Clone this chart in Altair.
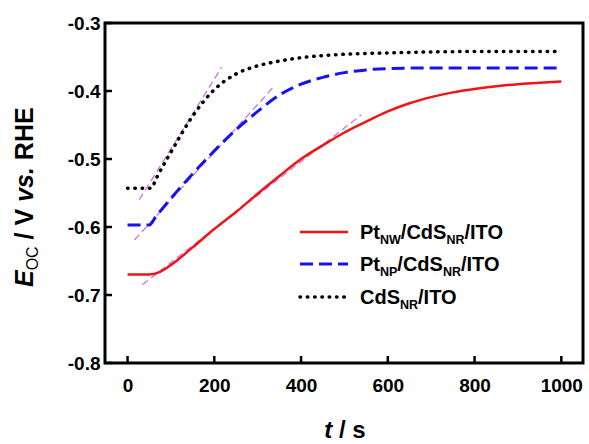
import altair as alt
import pandas as pd

# ---------------- data ----------------
t_nw = [0, 50, 75, 100, 150, 200, 250, 300, 350, 400, 450, 500, 550, 600, 650, 700, 750, 800, 850, 900, 950, 1000]
e_nw = [-0.670, -0.670, -0.666, -0.656, -0.630, -0.603, -0.578, -0.551, -0.525, -0.500, -0.480, -0.461,
        -0.445, -0.430, -0.418, -0.409, -0.402, -0.397, -0.393, -0.390, -0.388, -0.386]
t_np = [0, 50, 65, 100, 150, 200, 250, 300, 350, 400, 450, 500, 550, 600, 700, 800, 1000]
e_np = [-0.597, -0.597, -0.585, -0.558, -0.522, -0.488, -0.457, -0.430, -0.406, -0.390, -0.380, -0.373,
        -0.369, -0.367, -0.366, -0.366, -0.366]
t_cds = [0, 55, 65, 100, 150, 200, 250, 300, 350, 400, 500, 600, 800, 1000]
e_cds = [-0.543, -0.543, -0.530, -0.490, -0.437, -0.398, -0.375, -0.363, -0.356, -0.351, -0.346, -0.344,
         -0.342, -0.342]

tan_t = [[27, 217], [16, 338], [34, 539]]
tan_e = [[-0.560, -0.365], [-0.619, -0.393], [-0.685, -0.435]]

x_ticks = [0, 200, 400, 600, 800, 1000]
y_ticks = [-0.8, -0.7, -0.6, -0.5, -0.4, -0.3]

legend_labels = [
    [("Pt", "b"), ("NW", "s"), ("/CdS", "b"), ("NR", "s"), ("/ITO", "b")],
    [("Pt", "b"), ("NP", "s"), ("/CdS", "b"), ("NR", "s"), ("/ITO", "b")],
    [("CdS", "b"), ("NR", "s"), ("/ITO", "b")],
]
y_title = [("E", "bi"), ("OC", "s"), (" / V", "b"), (" vs.", "bi"), (" RHE", "b")]
x_title = [("t", "bi"), (" / s", "b")]

# ---------------- styles ----------------
RED = "#f01414"
BLUE = "#1414f0"
BLACK = "#000000"
MAG = "#cc66ee"
FONT = "Liberation Sans"
W, H = 478, 340
XDOM = [-52, 1050]
YDOM = [-0.8, -0.3]

AW = {"P": 667, "t": 333, "N": 722, "W": 944, "/": 278, "C": 722, "d": 611, "S": 667, "R": 722,
      "I": 278, "T": 611, "O": 778, "E": 667, "V": 667, "v": 556, "s": 556, ".": 278, "H": 722, " ": 278}


def wid(s, size):
    return sum(AW.get(c, 556) for c in s) * size / 1000.0


xs = alt.Scale(domain=XDOM, nice=False, zero=False)
ys = alt.Scale(domain=YDOM, nice=False, zero=False)

df_nw = pd.DataFrame({"t": t_nw, "e": e_nw})
df_np = pd.DataFrame({"t": t_np, "e": e_np})
df_cds = pd.DataFrame({"t": t_cds, "e": e_cds})

layers = []

base_x = alt.X("t:Q", scale=xs, axis=alt.Axis(values=x_ticks, title=None, domain=False, ticks=False, grid=False,
                                                format="d", labelFont=FONT, labelFontSize=19,
                                                labelFontWeight="bold", labelColor="black", labelPadding=13,
                                                labelFlush=False))
base_y = alt.Y("e:Q", scale=ys, axis=alt.Axis(values=y_ticks, title=None, domain=False, ticks=False, grid=False,
                                               labelExpr="replace(format(datum.value, '.1f'), '\u2212', '-')",
                                               labelFont=FONT, labelFontSize=19,
                                               labelFontWeight="bold", labelColor="black", labelPadding=5,
                                               labelFlush=False))

# frame
layers.append(alt.Chart(pd.DataFrame({"a": [0]})).mark_rect(fill=None, stroke="black", strokeWidth=3).encode(
    x=alt.value(0), x2=alt.value(W), y=alt.value(0), y2=alt.value(H)))

# tangent lines
for tt, ee in zip(tan_t, tan_e):
    d = pd.DataFrame({"t": tt, "e": ee})
    layers.append(alt.Chart(d).mark_line(color=MAG, strokeWidth=1.2, strokeDash=[7, 4]).encode(
        x=alt.X("t:Q", scale=xs), y=alt.Y("e:Q", scale=ys)))

layers.append(alt.Chart(df_cds).mark_line(color=BLACK, strokeWidth=3.5, strokeDash=[0.5, 6.8], strokeCap="round",
                                          interpolate="monotone").encode(x=base_x, y=base_y))
layers.append(alt.Chart(df_np).mark_line(color=BLUE, strokeWidth=3, strokeDash=[13, 6],
                                         interpolate="monotone").encode(x=alt.X("t:Q", scale=xs),
                                                                        y=alt.Y("e:Q", scale=ys)))
layers.append(alt.Chart(df_nw).mark_line(color=RED, strokeWidth=2.5,
                                         interpolate="monotone").encode(x=alt.X("t:Q", scale=xs),
                                                                        y=alt.Y("e:Q", scale=ys)))

# inward ticks
layers.append(alt.Chart(pd.DataFrame({"t": x_ticks})).mark_rule(color="black", strokeWidth=2.5).encode(
    x=alt.X("t:Q", scale=xs), y=alt.value(H), y2=alt.value(H - 7)))
layers.append(alt.Chart(pd.DataFrame({"e": y_ticks})).mark_rule(color="black", strokeWidth=2.5).encode(
    y=alt.Y("e:Q", scale=ys), x=alt.value(0), x2=alt.value(7)))


def text_layer(txt, x, y, size, weight="bold", style="normal", angle=0):
    return alt.Chart(pd.DataFrame({"a": [0]})).mark_text(
        text=txt, font=FONT, fontSize=size, fontWeight=weight, fontStyle=style, align="left",
        baseline="alphabetic", color="black", angle=angle).encode(x=alt.value(x), y=alt.value(y))


def seg_props(kind, bsize, ssize, sweight):
    if kind == "b":
        return bsize, "bold", "normal", 0
    if kind == "bi":
        return bsize, "bold", "italic", 0
    return ssize, sweight, "normal", 1


# legend
leg_rows = [209, 241, 274]
leg_x0, leg_x1, leg_tx = 195, 243, 255
leg_marks = [
    dict(color=RED, strokeWidth=2.5),
    dict(color=BLUE, strokeWidth=3, strokeDash=[13, 6]),
    dict(color=BLACK, strokeWidth=3.5, strokeDash=[0.5, 6.8], strokeCap="round"),
]
for row, lab, mk in zip(leg_rows, legend_labels, leg_marks):
    layers.append(alt.Chart(pd.DataFrame({"a": [0]})).mark_rule(**mk).encode(
        x=alt.value(leg_x0), x2=alt.value(leg_x1), y=alt.value(row)))
    cx = leg_tx
    for s, kind in lab:
        size, weight, style, sub = seg_props(kind, 20, 12.5, "bold")
        yy = row + 7 + (5 if sub else 0)
        layers.append(text_layer(s, cx, yy, size, weight, style))
        cx += wid(s, size)

# y title (rotated, reads bottom to top)
ty_x, ty_y = -72, 264
cy = ty_y
for s, kind in y_title:
    size, weight, style, sub = seg_props(kind, 25, 16, "normal")
    lead = len(s) - len(s.lstrip())
    layers.append(text_layer(s.strip(), ty_x + (5 if sub else 0), cy - wid(" " * lead, size),
                             size, weight, style, angle=270))
    cy -= wid(s, size)

# x title
total = sum(wid(s, 24) for s, _ in x_title)
cx = 240 - total / 2
for s, kind in x_title:
    size, weight, style, sub = seg_props(kind, 24, 15, "bold")
    lead = len(s) - len(s.lstrip())
    layers.append(text_layer(s.strip(), cx + wid(" " * lead, size), H + 75, size, weight, style))
    cx += wid(s, size)

chart = alt.layer(*layers).properties(
    width=W, height=H,
    autosize=alt.AutoSizeParams(type="none"),
    padding={"left": 105, "top": 23, "right": 6, "bottom": 81},
).configure_view(stroke=None).configure(background="white")

chart.save("out.html", embed_options={"renderer": "svg", "actions": False})
